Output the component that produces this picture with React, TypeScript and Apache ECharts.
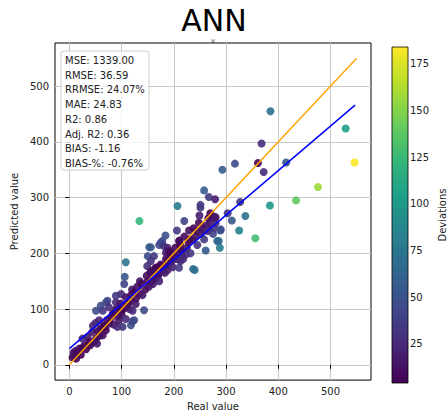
import React, { useEffect, useRef } from "react";
import * as echarts from "echarts";

const realValues = [
  6, 9, 13, 8, 12, 15, 19, 22, 25, 29, 32, 35, 38, 40, 44, 47, 51, 53, 55, 58, 60, 64, 66, 70, 72, 25, 45, 50,
  51, 57, 60, 64, 67, 70, 73, 76, 76, 80, 83, 85, 88, 89, 89, 90, 92, 93, 95, 98, 99, 99, 100, 102, 103, 105, 106,
  108, 108, 108, 108, 112, 115, 118, 118, 118, 120, 121, 121, 124, 124, 127, 128, 130, 133, 134,
  135, 138, 140, 143, 145, 148, 149, 150, 150, 152, 153, 155, 156, 156, 156, 158, 160, 162, 162, 165, 165, 168, 168,
  170, 172, 172, 175, 175, 175, 178, 178, 180, 181, 183, 184, 185, 185, 188, 188, 188, 190, 191, 191, 193, 195, 197,
  198, 200, 203, 205, 206, 207, 208, 210, 210, 210, 211, 212, 213, 213, 215, 216, 218, 220, 220, 223,
  225, 228, 229, 229, 232, 235, 237, 238, 240, 242, 245, 245, 248, 249, 251, 251, 252, 255, 258, 258, 258, 261, 262,
  265, 266, 267, 267, 270, 270, 275, 275, 277, 279, 279, 280, 280, 283, 286, 288, 289, 290, 293, 303, 311, 317, 325,
  327, 337, 356, 361, 368, 372, 384, 385, 415, 434, 476, 529, 546,
];
const predictedValues = [
  13, 17, 11, 22, 25, 20, 29, 18, 30, 35, 28, 50, 41, 35, 59, 42, 47, 38, 60, 52, 65, 53, 70, 62, 80, 47, 70, 75,
  97, 80, 106, 97, 68, 112, 115, 103, 74, 85, 91, 72, 95, 112, 124, 100, 68, 88, 80, 110, 97, 127, 90, 68, 100, 145, 158,
  82, 103, 121, 184, 110, 100, 71, 115, 125, 135, 78, 97, 80, 130, 109, 120, 140, 128, 258,
  150, 145, 125, 98, 135, 160, 177, 150, 195, 140, 211, 165, 168, 186, 211, 150, 145, 170, 195, 155, 174, 162, 175,
  160, 150, 215, 177, 180, 219, 168, 222, 175, 213, 165, 232, 190, 201, 170, 186, 210, 180, 203, 204, 200, 185, 198,
  175, 195, 210, 190, 241, 285, 200, 174, 189, 222, 223, 215, 186, 205, 205, 195, 190, 230, 258, 198,
  210, 220, 225, 241, 200, 225, 172, 245, 170, 230, 215, 240, 255, 268, 282, 287, 235, 245, 225, 241, 313, 205, 250,
  240, 263, 243, 301, 255, 272, 235, 266, 245, 263, 297, 254, 265, 222, 222, 210, 241, 243, 350, 272, 259, 361, 241,
  292, 267, 227, 362, 397, 346, 286, 455, 363, 295, 319, 424, 363,
];

const axisTicks = [0, 100, 200, 300, 400, 500];
const colorbarTicks = [25, 50, 75, 100, 125, 150, 175];
const identityLine = [
  [0, 0],
  [550, 550],
];
const fitLine = [
  [0, 29],
  [547, 466],
];
const statsLines = [
  "MSE: 1339.00",
  "RMSE: 36.59",
  "RRMSE: 24.07%",
  "MAE: 24.83",
  "R2: 0.86",
  "Adj. R2: 0.36",
  "BIAS: -1.16",
  "BIAS-%: -0.76%",
];
const devMin = 4.1;
const devMax = 184.1;
const viridis = [
  "#440154",
  "#482878",
  "#3e4989",
  "#31688e",
  "#26828e",
  "#1f9e89",
  "#35b779",
  "#6ece58",
  "#b5de2b",
  "#fde725",
];

const FONT = "DejaVu Sans";

export default function App() {
  const ref = useRef<HTMLDivElement>(null);
  useEffect(() => {
    document.body.style.margin = "0";
    const chart = echarts.init(ref.current!, null, { renderer: "svg" });
    const points = realValues.map((x, i) => [x, predictedValues[i], Math.abs(x - predictedValues[i])]);
    const gradStops = viridis
      .slice()
      .reverse()
      .map((c, i) => ({ offset: i / (viridis.length - 1), color: c }));
    const plot = { left: 55, top: 43, width: 316, height: 340 };
    const cb = { left: 392, top: 47, width: 16, height: 336 };
    chart.setOption({
      animation: false,
      textStyle: { fontFamily: FONT },
      grid: [
        { ...plot, show: true, borderColor: "#000", borderWidth: 1, backgroundColor: "#fff" },
        { ...cb, show: false },
      ],
      xAxis: [
        {
          gridIndex: 0,
          type: "value",
          min: -27.5,
          max: 577.5,
          name: "Real value",
          nameLocation: "middle",
          nameGap: 19,
          nameTextStyle: { fontSize: 10, color: "#222", fontFamily: FONT },
          axisLine: { show: false },
          axisTick: { show: true, customValues: axisTicks, length: 4, lineStyle: { color: "#000" } },
          axisLabel: { customValues: axisTicks, fontSize: 10, color: "#222", margin: 6, fontFamily: FONT },
          splitLine: { show: true, lineStyle: { color: "#c8c8c8", width: 1 } },
        },
        { gridIndex: 1, type: "value", min: 0, max: 1, show: false },
      ],
      yAxis: [
        {
          gridIndex: 0,
          type: "value",
          min: -27.5,
          max: 577.5,
          name: "Predicted value",
          nameLocation: "middle",
          nameGap: 28,
          nameRotate: 90,
          nameTextStyle: { fontSize: 10, color: "#222", fontFamily: FONT },
          axisLine: { show: false },
          axisTick: { show: true, customValues: axisTicks, length: 4, lineStyle: { color: "#000" } },
          axisLabel: { customValues: axisTicks, fontSize: 10, color: "#222", margin: 6, fontFamily: FONT },
          splitLine: { show: true, lineStyle: { color: "#c8c8c8", width: 1 } },
        },
        {
          gridIndex: 1,
          type: "value",
          position: "right",
          min: devMin,
          max: devMax,
          name: "Deviations",
          nameLocation: "middle",
          nameGap: 32,
          nameRotate: 90,
          nameTextStyle: { fontSize: 10, color: "#222", fontFamily: FONT },
          axisLine: { show: false },
          axisTick: { show: true, customValues: colorbarTicks, length: 4, lineStyle: { color: "#000" } },
          axisLabel: { customValues: colorbarTicks, fontSize: 10, color: "#222", margin: 5, fontFamily: FONT },
          splitLine: { show: false },
        },
      ],
      visualMap: {
        show: false,
        type: "continuous",
        seriesIndex: 0,
        dimension: 2,
        min: devMin,
        max: devMax,
        inRange: { color: viridis },
      },
      series: [
        {
          type: "scatter",
          xAxisIndex: 0,
          yAxisIndex: 0,
          data: points,
          symbolSize: 8,
          itemStyle: { opacity: 0.9 },
          z: 2,
        },
        {
          type: "line",
          xAxisIndex: 0,
          yAxisIndex: 0,
          data: identityLine,
          showSymbol: false,
          symbol: "none",
          lineStyle: { color: "#ffa500", width: 1.5 },
          z: 3,
        },
        {
          type: "line",
          xAxisIndex: 0,
          yAxisIndex: 0,
          data: fitLine,
          showSymbol: false,
          symbol: "none",
          lineStyle: { color: "#0000ff", width: 1.5 },
          z: 4,
        },
      ],
      graphic: [
        {
          type: "text",
          x: 214,
          y: 20,
          style: {
            text: "ANN",
            fontSize: 30,
            lineHeight: 22,
            fontFamily: FONT,
            fill: "#000",
            textAlign: "center",
            textVerticalAlign: "middle",
          },
        },
        {
          type: "text",
          x: 213,
          y: 40.5,
          style: {
            text: "v",
            fontSize: 7,
            lineHeight: 5,
            fontFamily: FONT,
            fill: "#333",
            textAlign: "center",
            textVerticalAlign: "middle",
          },
        },
        {
          type: "rect",
          z: 100,
          shape: { x: 61, y: 51, width: 88, height: 119, r: 3 },
          style: { fill: "rgba(255,255,255,0.8)", stroke: "#cccccc", lineWidth: 1 },
        },
        {
          type: "text",
          z: 101,
          x: 65,
          y: 53,
          style: {
            text: statsLines.join("\n"),
            fontSize: 10,
            lineHeight: 14.76,
            fontFamily: FONT,
            fill: "#222",
            textAlign: "left",
            textVerticalAlign: "top",
          },
        },
        {
          type: "rect",
          z: 50,
          shape: { x: cb.left, y: cb.top, width: cb.width, height: cb.height },
          style: {
            fill: new echarts.graphic.LinearGradient(0, 0, 0, 1, gradStops),
            stroke: "#000",
            lineWidth: 0.8,
          },
        },
      ],
    });
    return () => chart.dispose();
  }, []);
  return <div ref={ref} style={{ width: 448, height: 416 }} />;
}
